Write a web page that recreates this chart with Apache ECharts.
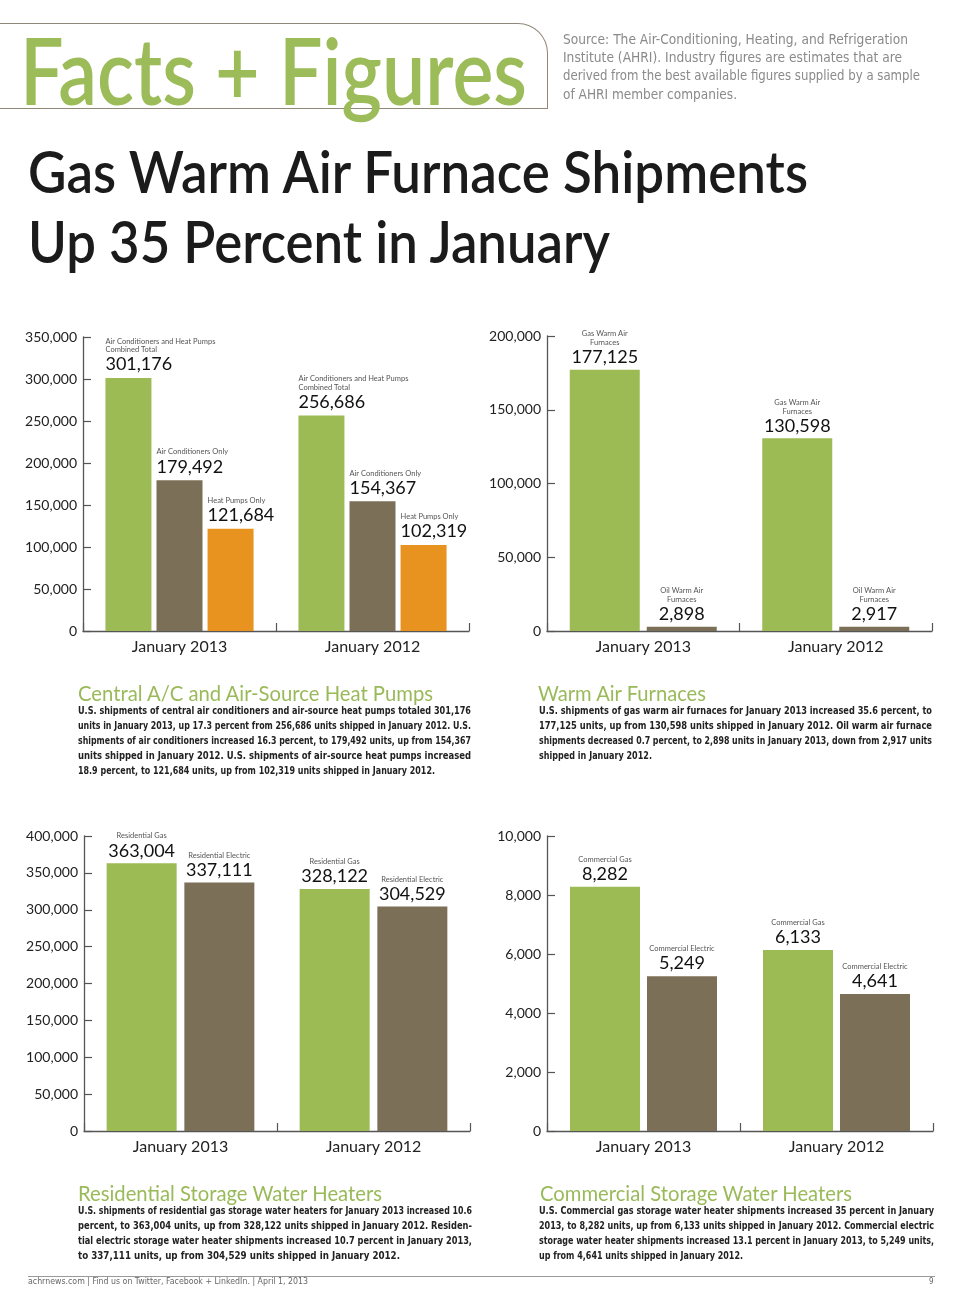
<!DOCTYPE html>
<html><head><meta charset="utf-8">
<script src="https://cdn.jsdelivr.net/npm/echarts@6/dist/echarts.min.js"></script>
<style>
html,body{margin:0;padding:0;background:#fff;}
#page{position:relative;width:960px;height:1303px;overflow:hidden;background:#fff;}
#chart{position:absolute;left:0;top:0;width:960px;height:1303px;}
.t{position:absolute;white-space:nowrap;transform-origin:0 50%;z-index:5;}
#box{position:absolute;left:-10px;top:23px;width:557px;height:84px;border:1.5px solid #8f887a;border-left:none;border-top-right-radius:30px;z-index:4;}
#foot{position:absolute;left:28px;top:1276px;width:907px;border-top:1px solid #9a9a9a;z-index:4;}
</style></head>
<body>
<div id="page"><div id="chart"></div><div id="box"></div><div id="foot"></div></div>
<script>
// ---------- data ----------
const categories = ['January 2013', 'January 2012'];

const acNames = ['Air Conditioners and Heat Pumps\nCombined Total', 'Air Conditioners Only', 'Heat Pumps Only'];
const acCombined = [301176, 256686];
const acOnly = [179492, 154367];
const hpOnly = [121684, 102319];

const furnNames = ['Gas Warm Air\nFurnaces', 'Oil Warm Air\nFurnaces'];
const gasFurnace = [177125, 130598];
const oilFurnace = [2898, 2917];

const resNames = ['Residential Gas', 'Residential Electric'];
const resGas = [363004, 328122];
const resElec = [337111, 304529];

const comNames = ['Commercial Gas', 'Commercial Electric'];
const comGas = [8282, 6133];
const comElec = [5249, 4641];

const yMax = [350000, 200000, 400000, 10000];
const yStep = [50000, 50000, 50000, 2000];

// ---------- styles ----------
const GREEN = '#9cbb55', BROWN = '#7b6f57', ORANGE = '#e8921f';
const AX = '#555';
const FONT = 'Lato, "Noto Sans", sans-serif';
const fmt = v => Number(v).toLocaleString('en-US');

const grids = [
  {left: 83, top: 337, width: 386, height: 294},
  {left: 547, top: 336, width: 385, height: 295},
  {left: 84, top: 836, width: 386, height: 295},
  {left: 547, top: 836, width: 386, height: 295}
];

const xAxes = grids.map((g, i) => ({
  type: 'category', gridIndex: i, data: categories,
  axisLine: {lineStyle: {color: AX, width: 1.3}},
  axisTick: {show: true, inside: true, length: 8, lineStyle: {color: AX, width: 1.2}},
  axisLabel: {fontSize: 16, color: '#222', fontFamily: FONT, margin: 8}
}));
const yAxes = grids.map((g, i) => ({
  type: 'value', gridIndex: i, min: 0, max: yMax[i], interval: yStep[i],
  axisLine: {show: true, lineStyle: {color: AX, width: 1.3}},
  axisTick: {show: true, inside: true, length: 8, lineStyle: {color: AX, width: 1.2}},
  splitLine: {show: false},
  axisLabel: {fontSize: 14, color: '#222', fontFamily: FONT, margin: 6, formatter: fmt}
}));

const rich = {
  n: {fontSize: 7.5, lineHeight: 8.5, color: '#555', fontFamily: FONT},
  v: {fontSize: 18, lineHeight: 21, color: '#111', fontFamily: FONT}
};
function bar(idx, name, data, color, width, gap, leftAligned) {
  const label = leftAligned
    ? {show: true, position: [0, -3], align: 'left', verticalAlign: 'bottom'}
    : {show: true, position: 'top', distance: 2};
  label.formatter = p => '{n|' + name + '}\n{v|' + fmt(p.value) + '}';
  label.rich = rich;
  return {
    type: 'bar', name: name.replace('\n', ' '), xAxisIndex: idx, yAxisIndex: idx,
    data: data, barWidth: width, barGap: gap, itemStyle: {color: color},
    label: label, silent: true, animation: false
  };
}

const series = [
  bar(0, acNames[0], acCombined, GREEN, 46, '11%', true),
  bar(0, acNames[1], acOnly, BROWN, 46, '11%', true),
  bar(0, acNames[2], hpOnly, ORANGE, 46, '11%', true),
  bar(1, furnNames[0], gasFurnace, GREEN, 70, '10%', false),
  bar(1, furnNames[1], oilFurnace, BROWN, 70, '10%', false),
  bar(2, resNames[0], resGas, GREEN, 70, '11%', false),
  bar(2, resNames[1], resElec, BROWN, 70, '11%', false),
  bar(3, comNames[0], comGas, GREEN, 70, '10%', false),
  bar(3, comNames[1], comElec, BROWN, 70, '10%', false)
];

const chart = echarts.init(document.getElementById('chart'), null, {renderer: 'canvas'});
chart.setOption({
  animation: false, backgroundColor: 'transparent',
  grid: grids, xAxis: xAxes, yAxis: yAxes, series: series
});

// ---------- page text ----------
const G2 = '#9aba5a';
const PF = '"Liberation Sans Narrow","DejaVu Sans Condensed","Roboto Condensed","Liberation Sans",Arial,sans-serif';
const HF = 'Lato, "Noto Sans", sans-serif';
const TEXTS = [
  {t: 'Facts + Figures', x: 20, y: 103, size: 92, fam: HF, w: 507, fit: true, color: '#9cbc59', weight: 600},
  {t: 'Source: The Air-Conditioning, Heating, and Refrigeration', x: 563, y: 45, size: 13.5, fam: PF, w: 345, fit: true, color: '#8a8a8a'},
  {t: 'Institute (AHRI). Industry figures are estimates that are', x: 563, y: 63, size: 13.5, fam: PF, w: 339, fit: true, color: '#8a8a8a'},
  {t: 'derived from the best available figures supplied by a sample', x: 563, y: 81, size: 13.5, fam: PF, w: 357, fit: true, color: '#8a8a8a'},
  {t: 'of AHRI member companies.', x: 563, y: 100, size: 13.5, fam: PF, w: 174, fit: true, color: '#8a8a8a'},
  {t: 'Gas Warm Air Furnace Shipments', x: 28, y: 192, size: 58, fam: HF, w: 780, fit: true, color: '#1b1b1b', weight: 600},
  {t: 'Up 35 Percent in January', x: 28, y: 262, size: 58, fam: HF, w: 582, fit: true, color: '#1b1b1b', weight: 600},

  {t: 'Central A/C and Air-Source Heat Pumps', x: 78, y: 700, size: 21, fam: HF, w: 355, fit: true, color: G2},
  {t: 'Warm Air Furnaces', x: 538, y: 700, size: 21, fam: HF, w: 168, fit: true, color: G2},
  {t: 'Residential Storage Water Heaters', x: 78, y: 1200, size: 21, fam: HF, w: 304, fit: true, color: G2},
  {t: 'Commercial Storage Water Heaters', x: 540, y: 1200, size: 21, fam: HF, w: 312, fit: true, color: G2},

  {t: 'achrnews.com  |  Find us on Twitter, Facebook + LinkedIn.  |  April 1, 2013', x: 28, y: 1285, size: 8, fam: PF, w: 280, fit: true, color: '#666'},
  {t: '9', x: 929, y: 1285, size: 8, fam: PF, color: '#666'}
];
const PARAS = [
  {x: 78, y: 714, w: 393, lastW: 357, lines: [
    'U.S. shipments of central air conditioners and air-source heat pumps totaled 301,176',
    'units in January 2013, up 17.3 percent from 256,686 units shipped in January 2012. U.S.',
    'shipments of air conditioners increased 16.3 percent, to 179,492 units, up from 154,367',
    'units shipped in January 2012. U.S. shipments of air-source heat pumps increased',
    '18.9 percent, to 121,684 units, up from 102,319 units shipped in January 2012.']},
  {x: 539, y: 714, w: 393, lastW: 113, lines: [
    'U.S. shipments of gas warm air furnaces for January 2013 increased 35.6 percent, to',
    '177,125 units, up from 130,598 units shipped in January 2012. Oil warm air furnace',
    'shipments decreased 0.7 percent, to 2,898 units in January 2013, down from 2,917 units',
    'shipped in January 2012.']},
  {x: 78, y: 1214, w: 394, lastW: 322, lines: [
    'U.S. shipments of residential gas storage water heaters for January 2013 increased 10.6',
    'percent, to 363,004 units, up from 328,122 units shipped in January 2012. Residen-',
    'tial electric storage water heater shipments increased 10.7 percent in January 2013,',
    'to 337,111 units, up from 304,529 units shipped in January 2012.']},
  {x: 539, y: 1214, w: 395, lastW: 204, lines: [
    'U.S. Commercial gas storage water heater shipments increased 35 percent in January',
    '2013, to 8,282 units, up from 6,133 units shipped in January 2012. Commercial electric',
    'storage water heater shipments increased 13.1 percent in January 2013, to 5,249 units,',
    'up from 4,641 units shipped in January 2012.']}
];
PARAS.forEach(p => p.lines.forEach((l, i) => {
  const last = i === p.lines.length - 1;
  TEXTS.push({t: l, x: p.x, y: p.y + i * 15, size: 11, fam: PF, weight: 700, color: '#222',
              w: last ? p.lastW : p.w, just: !last, fit: false});
}));

const page = document.getElementById('page');
TEXTS.forEach(o => {
  const d = document.createElement('div');
  d.className = 't';
  d.textContent = o.t;
  d.style.fontFamily = o.fam;
  d.style.fontSize = o.size + 'px';
  d.style.fontWeight = o.weight || 400;
  d.style.lineHeight = o.size + 'px';
  d.style.left = o.x + 'px';
  d.style.top = (o.y - o.size * 0.86) + 'px';
  d.style.color = o.color;
  page.appendChild(d);
  if (o.w) {
    const nat = d.getBoundingClientRect().width;
    if (o.just && nat < o.w) {
      const sp = (o.t.match(/ /g) || []).length;
      if (sp) d.style.wordSpacing = ((o.w - nat) / sp) + 'px';
    } else if (nat > o.w || o.fit) {
      d.style.transform = 'scaleX(' + (o.w / nat) + ')';
    }
  }
});
</script>
</body></html>
